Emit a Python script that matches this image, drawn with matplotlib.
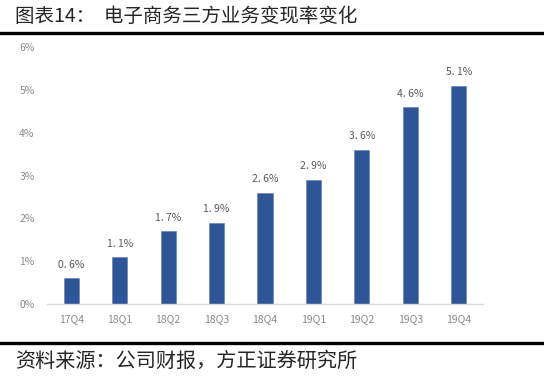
import matplotlib
matplotlib.use("Agg")
import matplotlib.pyplot as plt
from matplotlib.lines import Line2D

plt.rcParams['font.family'] = ['Noto Sans CJK SC', 'DejaVu Sans']

categories = ["17Q4", "18Q1", "18Q2", "18Q3", "18Q4", "19Q1", "19Q2", "19Q3", "19Q4"]
values = [0.6, 1.1, 1.7, 1.9, 2.6, 2.9, 3.6, 4.6, 5.1]
value_labels = ["0. 6%", "1. 1%", "1. 7%", "1. 9%", "2. 6%", "2. 9%", "3. 6%", "4. 6%", "5. 1%"]
yticks = [0, 1, 2, 3, 4, 5, 6]
ytick_labels = ["0%", "1%", "2%", "3%", "4%", "5%", "6%"]
title = "图表14：  电子商务三方业务变现率变化"
source = "资料来源：公司财报，方正证券研究所"

W, H = 544, 378
fig = plt.figure(figsize=(W / 100, H / 100), dpi=100)
fig.patch.set_facecolor("white")

ax = fig.add_axes([47 / W, 1 - 304 / H, (483 - 47) / W, (304 - 47) / H])
x = list(range(len(categories)))
ax.bar(x, values, width=0.31, color="#2F5597", edgecolor="#5b7cc0", linewidth=0.4, zorder=2)
for xi, v, lab in zip(x, values, value_labels):
    ax.annotate(lab, (xi, v), xytext=(0, 6), textcoords="offset points",
                ha="center", va="bottom", fontsize=7.5, color="#595959")

ax.set_xlim(-0.5, len(categories) - 0.5)
ax.set_ylim(0, 6)
ax.set_yticks(yticks)
ax.set_yticklabels(ytick_labels)
ax.set_xticks(x)
ax.set_xticklabels(categories)
ax.tick_params(axis="both", length=0, labelsize=7.5, labelcolor="#8a8a8a")
ax.tick_params(axis="y", pad=9)
ax.tick_params(axis="x", pad=7)
for s in ["top", "right", "left"]:
    ax.spines[s].set_visible(False)
ax.spines["bottom"].set_color("#d9d9d9")
ax.spines["bottom"].set_linewidth(1.0)

fig.text(15 / W, 1 - 16 / H, title, fontsize=14, fontweight="light", color="#262626",
         ha="left", va="center")
fig.add_artist(Line2D([0, 1], [1 - 33 / H, 1 - 33 / H], color="black", linewidth=2.4))
fig.add_artist(Line2D([0, 1], [1 - 343 / H, 1 - 343 / H], color="black", linewidth=2.4))
fig.text(15 / W, 1 - 361 / H, source, fontsize=14.5, fontweight="light", color="#262626",
         ha="left", va="center", style="italic")

fig.savefig("out.png", dpi=100, facecolor="white")
